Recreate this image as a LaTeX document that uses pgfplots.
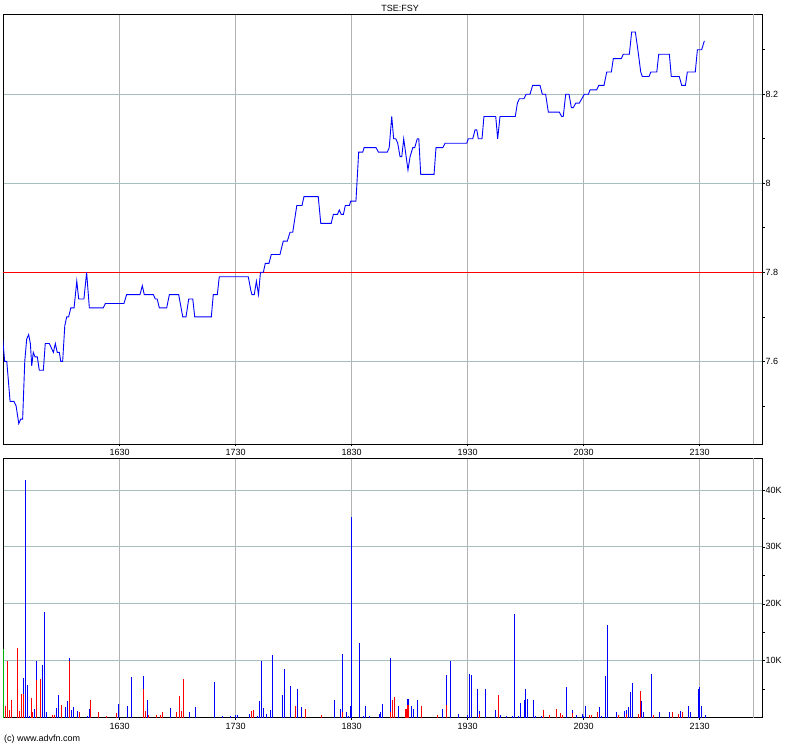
\documentclass[border=0pt]{standalone}
\usepackage{pgfplots}
\pgfplotsset{compat=1.18}
\usepackage{fontspec}
\setmainfont{Liberation Sans}
\definecolor{hgrid}{RGB}{165,190,190}
\definecolor{vgrid}{RGB}{178,178,178}
\begin{document}
\fontsize{9}{11}\selectfont
\begin{tikzpicture}[x=1pt,y=1pt]
\useasboundingbox (0pt,0pt) rectangle (800pt,747pt);
\pgfplotsset{
  panel/.style={
    scale only axis, width=759pt, xmin=929.64, xmax=1322.22,
    axis line style={black, line width=0.9pt},
    xtick={990,1050,1110,1170,1230,1290},
    xticklabels={1630,1730,1830,1930,2030,2130},
    xtick pos=bottom, ytick pos=right, yticklabel pos=right,
    tick align=outside, major tick length=2.5pt, minor tick length=2.5pt,
    tick style={black, line width=0.6pt},
    xmajorgrids, ymajorgrids,
    x grid style={vgrid, line width=0.8pt},
    y grid style={hgrid, line width=0.8pt},
    tick label style={font=\fontsize{9}{11}\selectfont},
    yticklabel style={anchor=west, inner sep=1pt},
    extra x ticks={1318}, extra x tick labels={},
    extra x tick style={grid=major, major tick length=0pt},
  }
}
% ---------------- price panel ----------------
\begin{axis}[panel, at={(3pt,303pt)}, anchor=south west, height=430pt,
  ymin=7.4142, ymax=8.3804,
  ytick={7.6,7.8,8.0,8.2}, yticklabels={7.6,7.8,8,8.2},
  minor ytick={7.5,7.7,7.9,8.1,8.3}]
\addplot[red, line width=0.9pt] coordinates {(929.64,7.8) (1322.22,7.8)};
\addplot[blue, line width=0.9pt] coordinates {
(929.5,7.65) (930.5,7.60) (931.6,7.60) (933.3,7.51) (935.3,7.51) (936.4,7.50)
(937.8,7.46) (938.8,7.47) (939.8,7.47) (940.9,7.60) (941.9,7.65) (942.9,7.66)
(943.8,7.64) (944.5,7.59) (945.3,7.62) (946.2,7.61) (947.4,7.61) (948.4,7.58)
(950.5,7.58) (951.5,7.64) (953.6,7.64) (955.7,7.62) (956.7,7.64) (957.7,7.62)
(958.8,7.62) (959.5,7.60) (960.5,7.60) (961.6,7.68) (962.6,7.70) (963.6,7.70)
(964.7,7.72) (966.4,7.72) (967.8,7.78) (968.8,7.74) (971.5,7.74) (972.9,7.80)
(974.3,7.72) (981.5,7.72) (982.6,7.73) (992.2,7.73) (993.6,7.75) (1000.5,7.75)
(1001.7,7.77) (1002.7,7.75) (1007.4,7.75) (1008.4,7.74) (1009.4,7.74) (1010.5,7.72)
(1014.3,7.72) (1015.7,7.75) (1020.5,7.75) (1022.6,7.70) (1024.3,7.70) (1025.7,7.74)
(1027.8,7.74) (1028.8,7.70) (1037.4,7.70) (1038.4,7.75) (1040.5,7.75) (1041.5,7.79)
(1056.5,7.79) (1057.8,7.76) (1058.4,7.75) (1059.6,7.75) (1060.7,7.78) (1061.8,7.75)
(1062.8,7.80) (1064.3,7.80) (1065.3,7.82) (1067.2,7.82) (1068.4,7.84) (1072.9,7.84)
(1074.6,7.87) (1076.7,7.87) (1078.1,7.89) (1079.5,7.89) (1080.2,7.91) (1081.6,7.95)
(1084.3,7.95) (1085.3,7.97) (1092.7,7.97) (1094.0,7.91) (1099.4,7.91) (1100.5,7.93)
(1102.6,7.93) (1103.6,7.94) (1104.6,7.93) (1105.7,7.93) (1106.7,7.95) (1108.8,7.95)
(1109.5,7.96) (1112.2,7.96) (1113.6,8.07) (1115.7,8.07) (1116.4,8.08) (1122.6,8.08)
(1123.8,8.07) (1128.4,8.07) (1129.4,8.08) (1130.7,8.15) (1131.7,8.10) (1132.8,8.10)
(1133.8,8.09) (1135.0,8.06) (1135.9,8.06) (1136.9,8.10) (1139.1,8.03) (1140.2,8.06)
(1141.6,8.08) (1142.6,8.08) (1143.9,8.10) (1144.7,8.10) (1145.7,8.02) (1152.6,8.02)
(1153.6,8.08) (1157.1,8.08) (1158.3,8.09) (1169.5,8.09) (1170.3,8.10) (1172.6,8.10)
(1173.8,8.12) (1174.7,8.12) (1175.5,8.10) (1177.4,8.10) (1178.4,8.15) (1184.5,8.15)
(1185.5,8.10) (1186.7,8.15) (1194.6,8.15) (1195.7,8.18) (1196.7,8.19) (1199.1,8.19)
(1200.2,8.20) (1202.2,8.20) (1203.6,8.22) (1207.4,8.22) (1208.6,8.20) (1210.3,8.20)
(1211.7,8.16) (1217.4,8.16) (1218.6,8.15) (1219.4,8.15) (1220.7,8.20) (1222.4,8.20)
(1223.6,8.17) (1224.6,8.17) (1225.9,8.18) (1227.7,8.18) (1230.3,8.20) (1232.4,8.20)
(1233.3,8.21) (1236.7,8.21) (1237.8,8.22) (1240.5,8.22) (1241.9,8.25) (1244.3,8.25)
(1245.3,8.28) (1249.4,8.28) (1250.5,8.29) (1253.6,8.29) (1254.8,8.34) (1256.7,8.34)
(1257.7,8.31) (1259.5,8.25) (1260.3,8.24) (1263.8,8.24) (1264.7,8.25) (1267.8,8.25)
(1268.8,8.29) (1274.3,8.29) (1275.3,8.24) (1279.4,8.24) (1280.7,8.22) (1282.6,8.22)
(1283.6,8.25) (1287.7,8.25) (1288.8,8.30) (1291.0,8.30) (1292.4,8.32)
};
\end{axis}
% ---------------- volume panel (thousands) ----------------
\begin{axis}[panel, at={(3pt,29.3pt)}, anchor=south west, height=259.4pt,
  ymin=0, ymax=45.56,
  ytick={10,20,30,40}, yticklabels={10K,20K,30K,40K},
  minor ytick={5,15,25,35}]
\addplot[ycomb, blue, line width=1.3pt, no marks] coordinates {
(940.2,7) (941.2,41.8) (942.2,5.8) (943.3,0.3) (945.8,1.5) (946.9,10) (950.0,9.3)
(951.0,18.6) (952.1,1) (957.2,1.7) (958.3,4) (961.9,1.9) (962.9,2.9) (963.9,10.5)
(965.0,1.4) (966.0,1.9) (968.1,1.2) (973.3,0.3) (974.3,1.5) (989.3,2.4) (993.9,2.1)
(996.0,7.2) (1002.2,7.4) (1004.3,3.1) (1016.2,1.7) (1026.0,1) (1029.1,1.9) (1038.9,6.3)
(1043.1,0.3) (1047.2,0.3) (1049.8,0.5) (1050.8,0.5) (1057.1,0.6) (1061.2,0.3) (1062.2,2.9)
(1063.3,10) (1064.3,1.7) (1065.9,0.6) (1067.9,1.4) (1068.9,11.1) (1074.1,4) (1075.2,8.6)
(1078.3,5.6) (1081.9,5.1) (1084.0,1.9) (1101.0,3.1) (1104.1,1.5) (1105.2,11.2) (1107.2,1)
(1108.3,0.3) (1109.3,2.1) (1109.8,35.2) (1113.9,13.2) (1116.0,0.3) (1117.1,2.1) (1119.1,0.3)
(1124.3,0.6) (1124.8,1) (1125.9,2.4) (1130.0,10.5) (1134.1,2.1)
(1139.1,3.3) (1140.8,2.1) (1141.9,1.5) (1144.0,3.1) (1156.9,1.5) (1159.0,7.5) (1161.0,10)
(1165.2,0.6) (1169.8,0.5) (1170.8,7.7) (1171.9,7.5) (1174.9,5.1) (1176.0,1.2) (1179.1,5.1)
(1184.3,1.4) (1186.9,0.5) (1190.0,0.3) (1193.1,0.3) (1194.1,18.3) (1196.2,0.3) (1197.2,2.6)
(1199.3,3.1) (1199.8,5.1) (1200.8,3.3) (1204.0,3.1) (1205.0,0.3) (1208.1,0.3) (1221.0,5.4)
(1224.1,1.4) (1226.2,0.5) (1229.3,0.6) (1229.8,0.3) (1230.8,2.1) (1238.1,1.9) (1239.1,0.3)
(1241.2,7.4) (1242.2,16.2) (1246.9,1) (1251.0,1.2) (1252.0,1.4) (1253.1,1.9) (1254.1,4.5)
(1255.2,6.1) (1259.8,2.9) (1260.8,1) (1265.0,7.7) (1269.1,1) (1274.3,1) (1280.0,1.2)
(1284.1,2.1) (1285.1,1) (1289.3,5.1) (1289.8,5.4) (1290.8,2.1) (1292.9,0.5)
};
\addplot[ycomb, red, line width=1.3pt, no marks] coordinates {
(930.9,2.1) (931.9,10) (932.9,1.4) (933.9,3.1) (937.1,12.3) (938.1,1.2) (939.1,4.2)
(940.2,4.2) (944.3,3.5) (944.8,1.0) (946.9,6.6) (948.9,6.8) (955.2,0.5) (956.2,0.5)
(959.8,2.2) (963.9,10) (969.1,1) (974.8,3.1) (978.9,1) (983.1,0.3) (988.3,0.8)
(1002.2,5.1) (1003.3,1.2) (1004.8,0.5) (1008.9,0.5) (1011.0,0.5) (1012.1,1) (1019.3,1)
(1020.9,3.8) (1021.9,1.2) (1022.9,6.8) (1058.1,1.2) (1059.1,1.4) (1080.9,2.1) (1086.0,1.5)
(1094.3,0.5) (1105.2,1) (1130.0,1) (1131.0,3.1) (1132.1,3.6)
(1138.1,1.5) (1139.1,2.2) (1146.0,2.1) (1154.3,0.5) (1159.0,2.2) (1176.0,0.6) (1185.8,4)
(1209.1,1.4) (1212.2,0.5) (1215.8,1.5) (1217.9,0.8) (1219.0,0.5) (1224.1,0.8) (1232.9,0.5)
(1233.9,0.5) (1237.1,1) (1247.9,0.5) (1252.0,0.6) (1258.3,0.6) (1259.3,4.7) (1266.0,0.5)
(1275.8,1) (1278.9,0.6) (1281.0,1)
};
\addplot[ycomb, green!70!black, line width=1.3pt, no marks] coordinates {(929.9,12.1)};
\end{axis}
\node at (400pt,738.7pt) {TSE:FSY};
\node[anchor=west, inner sep=0pt] at (4pt,7.5pt) {(c) www.advfn.com};
\end{tikzpicture}
\end{document}
